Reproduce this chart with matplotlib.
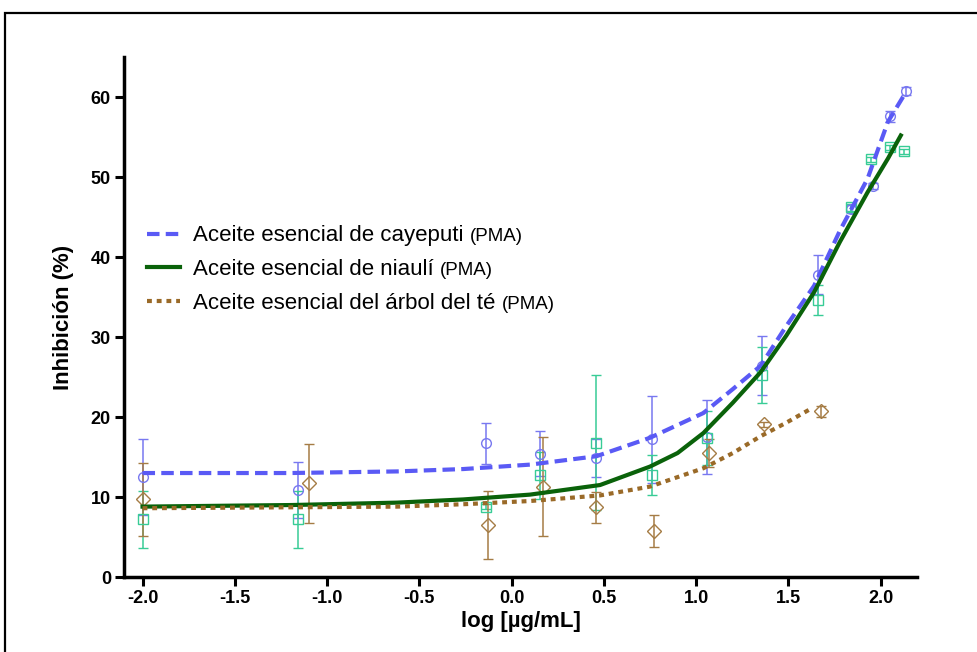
import numpy as np
import matplotlib
matplotlib.use("Agg")
import matplotlib.pyplot as plt
from matplotlib.patches import Rectangle

plt.rcParams['font.family'] = ['Liberation Sans', 'DejaVu Sans']
plt.rcParams['lines.scale_dashes'] = False

# mean inhibition (%) and SD at each log concentration
x_cay = [-2.0, -1.16, -0.14, 0.155, 0.46, 0.76, 1.06, 1.36, 1.66, 1.84, 1.96, 2.05, 2.14]
y_cay = [12.5, 10.9, 16.7, 15.4, 14.9, 17.2, 17.5, 26.4, 37.8, 46.0, 48.9, 57.6, 60.7]
e_cay = [4.8, 3.5, 2.6, 2.8, 2.4, 5.4, 4.6, 3.7, 2.4, 0.5, 0.4, 0.7, 0.5]

x_nia = [-2.0, -1.16, -0.14, 0.155, 0.46, 0.76, 1.06, 1.36, 1.66, 1.84, 1.95, 2.05, 2.13]
y_nia = [7.2, 7.2, 8.8, 12.7, 16.8, 12.8, 17.4, 25.2, 34.6, 46.2, 52.2, 53.7, 53.2]
e_nia = [3.6, 3.6, 0.3, 2.9, 8.4, 2.5, 3.4, 3.5, 1.9, 0.4, 0.3, 0.3, 0.3]

x_tea = [-2.0, -1.10, -0.13, 0.17, 0.46, 0.77, 1.07, 1.37, 1.68]
y_tea = [9.7, 11.7, 6.5, 11.3, 8.7, 5.7, 15.5, 19.1, 20.7]
e_tea = [4.6, 4.9, 4.3, 6.2, 1.9, 2.0, 1.7, 0.3, 0.7]

# fitted dose-response curves
fx_cay = [-2.0, -1.2, -0.62, -0.26, 0.10, 0.46, 0.75, 1.04, 1.20, 1.35, 1.49, 1.64, 1.78, 1.93, 2.04, 2.14]
fy_cay = [13.0, 13.0, 13.2, 13.5, 14.05, 15.1, 17.4, 20.5, 23.5, 26.4, 31.4, 36.4, 43.3, 49.8, 56.9, 60.7]

fx_nia = [-2.0, -1.19, -0.62, -0.26, 0.10, 0.48, 0.75, 0.90, 1.04, 1.20, 1.35, 1.49, 1.64, 1.78, 1.93, 2.04, 2.11]
fy_nia = [8.8, 9.0, 9.3, 9.7, 10.3, 11.5, 13.8, 15.5, 18.0, 21.8, 25.6, 30.2, 35.6, 41.9, 48.1, 52.3, 55.2]

fx_tea = [-2.0, -0.62, -0.26, 0.10, 0.48, 0.75, 1.04, 1.20, 1.35, 1.49, 1.62]
fy_tea = [8.6, 8.8, 9.1, 9.5, 10.2, 11.3, 13.6, 15.5, 17.6, 19.3, 21.0]

labels = ['Aceite esencial de cayeputi', 'Aceite esencial de niaulí',
          'Aceite esencial del árbol del té']

c_cay, m_cay = '#5a5af5', '#7878f0'
c_nia, m_nia = '#0a620a', '#38cc96'
c_tea, m_tea = '#9a6a28', '#a57c45'

fig = plt.figure(figsize=(9.77, 6.52), dpi=100)
ax = fig.add_axes([0.127, 0.115, 0.812, 0.7975])

# error bars and open markers
ax.errorbar(x_cay, y_cay, yerr=e_cay, fmt='o', ms=7, mfc='none', mec=m_cay,
            mew=1.0, ecolor=m_cay, elinewidth=1.1, capsize=3.5, capthick=1.1, zorder=3)
ax.errorbar(x_nia, y_nia, yerr=e_nia, fmt='s', ms=6.5, mfc='none', mec=m_nia,
            mew=1.0, ecolor=m_nia, elinewidth=1.1, capsize=3.5, capthick=1.1, zorder=3)
ax.errorbar(x_tea, y_tea, yerr=e_tea, fmt='D', ms=7, mfc='none', mec=m_tea,
            mew=1.0, ecolor=m_tea, elinewidth=1.1, capsize=3.5, capthick=1.1, zorder=3)

# fit curves
l1, = ax.plot(fx_cay, fy_cay, color=c_cay, lw=3.0, dashes=(9, 4.5), zorder=4)
l2, = ax.plot(fx_nia, fy_nia, color=c_nia, lw=3.0, zorder=4)
l3, = ax.plot(fx_tea, fy_tea, color=c_tea, lw=3.0, dashes=(3.5, 3.5), zorder=4)

ax.set_xlim(-2.1, 2.2)
ax.set_ylim(0, 65)
ax.set_xticks(np.arange(-2.0, 2.01, 0.5))
ax.set_xticklabels(['%.1f' % v for v in np.arange(-2.0, 2.01, 0.5)])
ax.set_yticks(range(0, 61, 10))

for s in ['top', 'right']:
    ax.spines[s].set_visible(False)
for s in ['left', 'bottom']:
    ax.spines[s].set_linewidth(2.5)
ax.tick_params(direction='out', length=6.5, width=2.2, pad=3, labelsize=13)
for t in ax.get_xticklabels() + ax.get_yticklabels():
    t.set_fontweight('bold')

ax.set_xlabel('log [µg/mL]', fontsize=16, fontweight='bold', labelpad=3)
ax.set_ylabel('Inhibición (%)', fontsize=16, fontweight='bold', labelpad=12)

leg = ax.legend([l1, l2, l3], labels, loc='upper left', frameon=False,
                bbox_to_anchor=(0.1505, 0.6543), bbox_transform=fig.transFigure,
                fontsize=16, handlelength=1.5, handletextpad=0.55,
                labelspacing=0.57, borderpad=0, borderaxespad=0)

# smaller "(PMA)" after each legend entry
fig.canvas.draw()
renderer = fig.canvas.get_renderer()
for t in leg.get_texts():
    bb = t.get_window_extent(renderer)
    _, _, d = renderer.get_text_width_height_descent('lp', t.get_fontproperties(), ismath=False)
    fig.text((bb.x1 + 7) / fig.bbox.width, (bb.y0 + d) / fig.bbox.height, '(PMA)',
             fontsize=13.5, va='baseline', ha='left')

# frame around the figure
fig.patches.append(Rectangle((5 / 977, -0.1), 1.2, 1.0 - 12.5 / 652 + 0.1,
                             transform=fig.transFigure, fill=False,
                             lw=1.6, ec='black'))

fig.savefig('out.png', dpi=100)
